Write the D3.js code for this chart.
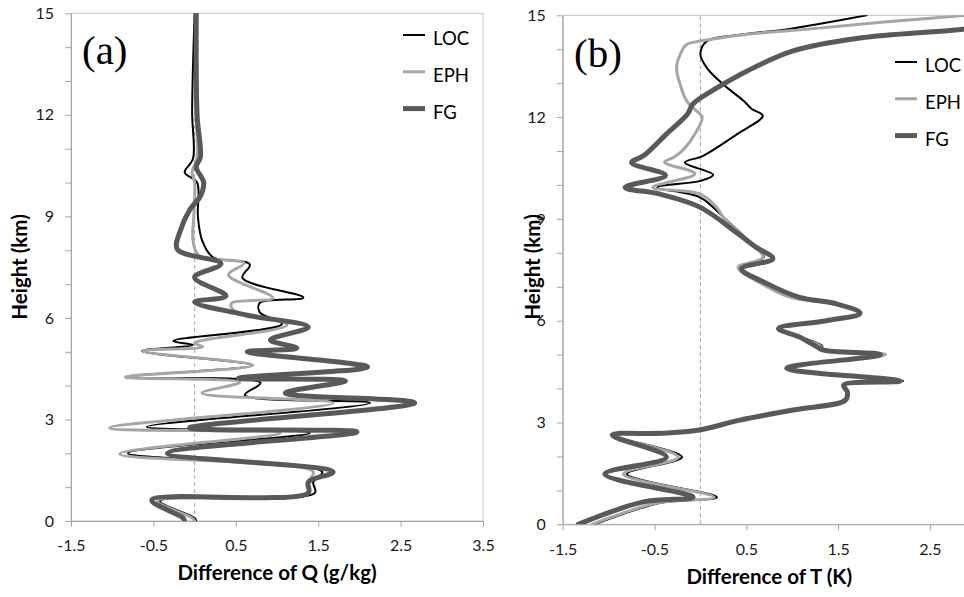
<!DOCTYPE html>
<html>
<head>
<meta charset="utf-8">
<script src="https://cdn.jsdelivr.net/npm/d3@7"></script>
<style>
    body { margin: 0; background: #fff; }
    text { font-family: Lato, "Open Sans", sans-serif; }
</style>
</head>
<body>
<script>
//series names, drawing order and legend order
var seriesNames = ["LOC", "EPH", "FG"];

//tick labels
var heightTicks = [0, 3, 6, 9, 12, 15];
var qTicks = [-1.5, -0.5, 0.5, 1.5, 2.5, 3.5];
var tTicks = [-1.5, -0.5, 0.5, 1.5, 2.5];

//panel (a): [height km, difference of Q g/kg]
var qLOC = [[0, 0.02], [0.09, 0.0], [0.59, -0.42], [0.83, 1.46], [1.15, 1.44], [1.45, 1.55],
    [2.0, -0.81], [2.6, 1.40], [2.78, -0.58], [3.49, 2.13], [3.72, 0.61], [4.08, 0.80],
    [4.25, -0.84], [4.6, 0.70], [5.02, -0.64], [5.2, -0.02], [5.32, -0.26], [5.82, 1.06],
    [6.17, 0.79], [6.44, 0.79], [6.6, 1.32], [7.18, 0.58], [7.58, 0.67], [7.8, 0.22],
    [8.3, 0.09], [9.0, 0.04], [10.0, 0.03], [10.3, -0.12], [10.7, -0.02], [12.1, -0.03], [15, 0.0]];
var qEPH = [[0, 0.0], [0.09, -0.03], [0.59, -0.45], [0.83, 1.38], [1.15, 1.38], [1.45, 1.44],
    [1.98, -0.91], [2.6, 1.04], [2.75, -1.03], [3.49, 1.68], [3.78, 0.09], [4.1, 0.55],
    [4.25, -0.84], [4.6, 0.71], [5.02, -0.63], [5.15, 0.10], [5.26, 0.0], [5.79, 1.12],
    [6.23, 0.47], [6.44, 0.45], [6.59, 0.95], [7.27, 0.41], [7.62, 0.60], [7.85, 0.05],
    [8.3, -0.02], [9.0, -0.01], [10.0, 0.0], [10.3, -0.03], [10.75, 0.03], [12, 0.02], [15, 0.02]];
var qFG = [[0, -0.12], [0.09, -0.14], [0.62, -0.52], [0.83, 1.38], [1.15, 1.38], [1.45, 1.68],
    [2.0, -0.33], [2.63, 1.97], [2.75, -0.06], [3.49, 2.67], [3.78, 1.10], [4.14, 1.83],
    [4.22, 0.53], [4.55, 2.10], [5.0, 0.64], [5.11, 1.24], [5.35, 0.92], [5.73, 1.38],
    [6.08, 0.64], [6.47, 0.0], [6.65, 0.38], [7.2, 0.0], [7.6, 0.32], [8.03, -0.21],
    [8.6, -0.17], [9.19, -0.06], [9.6, 0.07], [10.0, 0.11], [10.46, 0.02], [10.75, 0.07],
    [12.0, 0.03], [15, 0.02]];

//panel (b): [height km, difference of T K]
var tLOC = [[0, -1.15], [0.63, -0.44], [0.8, 0.18], [1.48, -0.80], [1.98, -0.20], [2.63, -0.96],
    [2.68, -0.44], [2.77, -0.03], [3.07, 0.43], [3.37, 1.01], [3.66, 1.58], [3.9, 1.60],
    [4.1, 1.56], [4.22, 2.21], [4.6, 0.94], [5.0, 1.96], [5.13, 1.34], [5.27, 1.32],
    [5.77, 0.87], [6.0, 1.37], [6.22, 1.72], [6.5, 1.45], [6.69, 1.0], [7.1, 0.68],
    [7.57, 0.43], [7.87, 0.69], [8.4, 0.51], [9.05, 0.25], [9.63, 0.0], [9.93, -0.47],
    [10.12, 0.0], [10.3, 0.14], [10.66, -0.17], [10.86, 0.03], [11.5, 0.40], [12.04, 0.68],
    [12.24, 0.56], [12.48, 0.47], [12.96, 0.25], [13.45, 0.07], [13.85, 0.0], [14.24, 0.07],
    [14.43, 0.43], [14.6, 0.97], [15, 1.81]];
var tEPH = [[0, -1.18], [0.63, -0.47], [0.8, 0.15], [1.48, -0.84], [1.98, -0.24], [2.63, -0.96],
    [2.68, -0.44], [2.77, -0.03], [3.07, 0.43], [3.37, 1.01], [3.66, 1.58], [3.9, 1.60],
    [4.1, 1.56], [4.22, 2.19], [4.6, 0.94], [5.0, 2.02], [5.13, 1.34], [5.27, 1.30],
    [5.77, 0.86], [6.0, 1.37], [6.22, 1.72], [6.5, 1.45], [6.69, 0.98], [7.1, 0.66],
    [7.57, 0.41], [7.87, 0.68], [8.4, 0.50], [9.05, 0.25], [9.33, 0.18], [9.73, 0.0],
    [9.93, -0.52], [10.33, -0.06], [10.67, -0.39], [10.82, -0.29], [11.0, -0.2], [11.5, -0.06],
    [12.0, 0.02], [12.18, -0.04], [12.48, -0.15], [12.96, -0.22], [13.45, -0.26], [13.85, -0.22],
    [14.14, -0.15], [14.24, 0.0], [14.43, 0.47], [14.6, 1.2], [14.8, 2.0], [15, 2.9]];
var tFG = [[0, -1.33], [0.66, -0.62], [0.8, -0.08], [1.48, -1.04], [1.98, -0.37], [2.63, -0.96],
    [2.68, -0.44], [2.77, -0.03], [3.07, 0.43], [3.37, 1.01], [3.66, 1.58], [3.9, 1.60],
    [4.1, 1.56], [4.22, 2.17], [4.6, 0.94], [5.0, 1.96], [5.13, 1.34], [5.23, 1.27],
    [5.52, 1.08], [5.77, 0.85], [6.0, 1.37], [6.22, 1.74], [6.5, 1.48], [6.69, 1.08],
    [7.1, 0.72], [7.53, 0.45], [7.83, 0.79], [8.16, 0.61], [8.56, 0.41], [9.34, 0.0],
    [9.73, -0.44], [9.93, -0.82], [10.28, -0.38], [10.66, -0.75], [10.86, -0.62], [11.5, -0.37],
    [12.09, -0.14], [12.39, -0.08], [12.86, 0.18], [13.36, 0.51], [13.95, 1.01], [14.33, 1.74],
    [14.59, 2.87], [15, 4.2]];

//begin script when window loads
window.onload = setChart();

function setChart(){

    //frame dimensions
    var width = 964,
        height = 597;

    var svg = d3.select("body")
        .append("svg")
        .attr("width", width)
        .attr("height", height);

    //line styles by series
    var colors = {LOC: "#000000", EPH: "#a6a6a6", FG: "#595959"},
        widths = {LOC: 2, EPH: 3, FG: 5};

    drawPanel({
        id: "a", left: 71, right: 483, top: 13.3, bottom: 521,
        domain: [-1.5, 3.5], ticks: qTicks,
        series: [qLOC, qEPH, qFG],
        title: "Difference of Q (g/kg)", titleY: 580,
        yTitleX: 27, tag: "(a)", tagX: 82, tagY: 64,
        legendX: 403, legendY: 35
    });

    drawPanel({
        id: "b", left: 562.7, right: 975.8, top: 15.3, bottom: 524.3,
        domain: [-1.5, 3], ticks: tTicks,
        series: [tLOC, tEPH, tFG],
        title: "Difference of T (K)", titleY: 584,
        yTitleX: 540, tag: "(b)", tagX: 574, tagY: 67,
        legendX: 895, legendY: 62
    });

    function drawPanel(p){
        var x = d3.scaleLinear().domain(p.domain).range([p.left, p.right]);
        var y = d3.scaleLinear().domain([0, 15]).range([p.bottom, p.top]);

        //clip lines to the plot box
        svg.append("clipPath")
            .attr("id", "clip-" + p.id)
            .append("rect")
            .attr("x", p.left)
            .attr("y", p.top)
            .attr("width", p.right - p.left)
            .attr("height", p.bottom - p.top);

        //plot frame
        svg.append("rect")
            .attr("x", p.left)
            .attr("y", p.top)
            .attr("width", p.right - p.left)
            .attr("height", p.bottom - p.top)
            .attr("fill", "none")
            .attr("stroke", "#c4c4c4")
            .attr("stroke-width", 1);

        //y axis, ticks every km, labels every 3 km
        var yAxis = d3.axisLeft(y)
            .tickValues(d3.range(0, 16, 1))
            .tickSize(6)
            .tickSizeOuter(0)
            .tickPadding(11)
            .tickFormat(function(d){ return heightTicks.indexOf(d) >= 0 ? d : ""; });

        var gy = svg.append("g")
            .attr("transform", "translate(" + p.left + ",0)")
            .call(yAxis);

        //x axis
        var xAxis = d3.axisBottom(x)
            .tickValues(p.ticks)
            .tickSize(6)
            .tickSizeOuter(0)
            .tickPadding(13)
            .tickFormat(function(d){ return d.toFixed(1); });

        var gx = svg.append("g")
            .attr("transform", "translate(0," + p.bottom + ")")
            .call(xAxis);

        [gx, gy].forEach(function(g){
            g.selectAll("path, line").attr("stroke", "#a6a6a6");
            g.selectAll("text")
                .attr("fill", "#1a1a1a")
                .style("font-size", "16px")
                .style("font-family", "Lato, sans-serif");
        });

        //dashed zero line
        svg.append("line")
            .attr("x1", x(0))
            .attr("x2", x(0))
            .attr("y1", y(0))
            .attr("y2", y(15))
            .attr("stroke", "#b3b3b3")
            .attr("stroke-width", 1.2)
            .attr("stroke-dasharray", "4,3");

        //profile lines
        var line = d3.line()
            .x(function(d){ return x(d[1]); })
            .y(function(d){ return y(d[0]); })
            .curve(d3.curveCatmullRom.alpha(0.5));

        var lines = svg.append("g")
            .attr("clip-path", "url(#clip-" + p.id + ")");

        p.series.forEach(function(data, i){
            var name = seriesNames[i];
            lines.append("path")
                .datum(data)
                .attr("class", "profile " + name)
                .attr("d", line)
                .attr("fill", "none")
                .attr("stroke", colors[name])
                .attr("stroke-width", widths[name])
                .attr("stroke-linejoin", "round")
                .attr("stroke-linecap", "round");
        });

        //axis titles
        svg.append("text")
            .attr("x", (p.left + p.right) / 2)
            .attr("y", p.titleY)
            .attr("text-anchor", "middle")
            .style("font-size", "20.5px")
            .style("font-weight", "bold")
            .text(p.title);

        svg.append("text")
            .attr("transform", "translate(" + p.yTitleX + ",267) rotate(-90)")
            .attr("text-anchor", "middle")
            .style("font-size", "20.5px")
            .style("font-weight", "bold")
            .text("Height (km)");

        //panel tag
        svg.append("text")
            .attr("x", p.tagX)
            .attr("y", p.tagY)
            .style("font-family", "'Liberation Serif', 'Times New Roman', serif")
            .style("font-size", "41px")
            .text(p.tag);

        //legend
        var legend = svg.append("g")
            .attr("transform", "translate(" + p.legendX + "," + p.legendY + ")");

        seriesNames.forEach(function(name, i){
            legend.append("line")
                .attr("x1", 0)
                .attr("x2", 22)
                .attr("y1", i * 36.8)
                .attr("y2", i * 36.8)
                .attr("stroke", colors[name])
                .attr("stroke-width", widths[name]);
            legend.append("text")
                .attr("x", 30)
                .attr("y", i * 36.8 + 10)
                .style("font-size", "18.5px")
                .text(name);
        });
    };
};
</script>
</body>
</html>
